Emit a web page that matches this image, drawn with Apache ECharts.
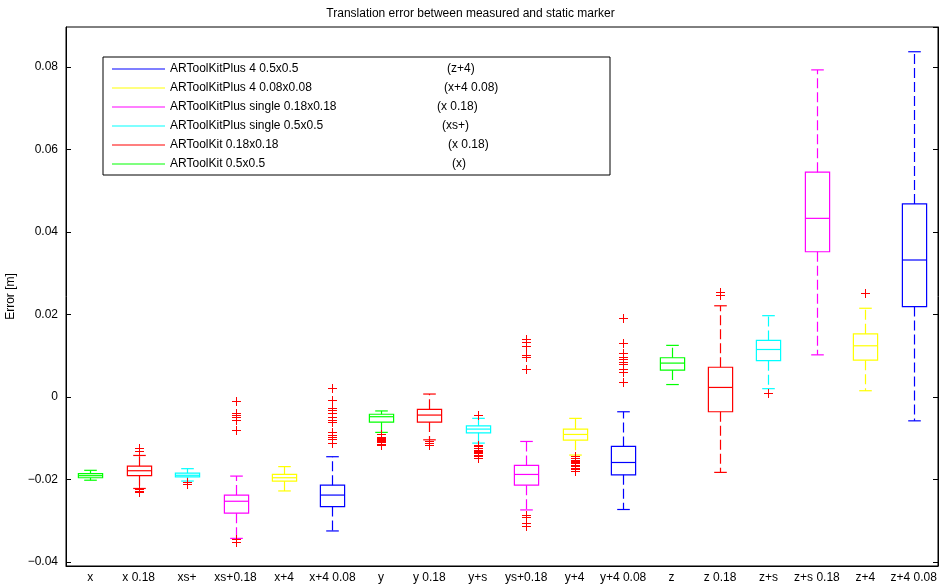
<!DOCTYPE html>
<html>
<head>
<meta charset="utf-8">
<script src="https://cdn.jsdelivr.net/npm/echarts@6/dist/echarts.min.js"></script>
<style>
  html, body { margin: 0; padding: 0; background: #fff; }
  #chart { width: 941px; height: 588px; }
</style>
</head>
<body>
<div id="chart"></div>
<script>
// Boxplot categories (x axis)
const categories = ['x', 'x 0.18', 'xs+', 'xs+0.18', 'x+4', 'x+4 0.08',
  'y', 'y 0.18', 'y+s', 'ys+0.18', 'y+4', 'y+4 0.08',
  'z', 'z 0.18', 'z+s', 'z+s 0.18', 'z+4', 'z+4 0.08'];

// Per-category statistics: [lower whisker, Q1, median, Q3, upper whisker] in metres
const boxStats = [
  [-0.0202, -0.0196, -0.0191, -0.0186, -0.0178],
  [-0.0222, -0.0191, -0.0179, -0.0168, -0.0142],
  [-0.0204, -0.0194, -0.0190, -0.0185, -0.0174],
  [-0.0343, -0.0282, -0.0253, -0.0238, -0.0192],
  [-0.0228, -0.0204, -0.0196, -0.0188, -0.0169],
  [-0.0325, -0.0266, -0.0238, -0.0214, -0.0145],
  [-0.0086, -0.0061, -0.0048, -0.0042, -0.0034],
  [-0.0104, -0.0061, -0.0044, -0.0030, 0.0007],
  [-0.0112, -0.0087, -0.0078, -0.0070, -0.0052],
  [-0.0274, -0.0214, -0.0188, -0.0166, -0.0108],
  [-0.0141, -0.0105, -0.0091, -0.0078, -0.0052],
  [-0.0273, -0.0189, -0.0159, -0.0120, -0.0036],
  [0.0030, 0.0065, 0.0082, 0.0095, 0.0125],
  [-0.0183, -0.0036, 0.0023, 0.0072, 0.0221],
  [0.0020, 0.0088, 0.0115, 0.0137, 0.0197],
  [0.0102, 0.0352, 0.0433, 0.0545, 0.0793],
  [0.0015, 0.0089, 0.0124, 0.0153, 0.0215],
  [-0.0058, 0.0219, 0.0332, 0.0468, 0.0837]
];

// Outlier values per category
const outlierValues = [
  [],
  [-0.0125, -0.0132, -0.0224, -0.0227, -0.0231],
  [-0.0207, -0.0210],
  [-0.0010, -0.0040, -0.0044, -0.0048, -0.0056, -0.0080, -0.0345, -0.0353],
  [],
  [0.0022, -0.0007, -0.0027, -0.0032, -0.0040, -0.0049, -0.0055, -0.0060, -0.0084, -0.0092, -0.0098, -0.0103, -0.0111],
  [-0.0089, -0.0096, -0.0100, -0.0102, -0.0104, -0.0106, -0.0108, -0.0110, -0.0113, -0.0116],
  [-0.0107, -0.0112, -0.0116],
  [-0.0044, -0.0116, -0.0120, -0.0124, -0.0128, -0.0131, -0.0134, -0.0137, -0.0140, -0.0143, -0.0148],
  [0.0140, 0.0132, 0.0124, 0.0102, 0.0098, 0.0067, -0.0286, -0.0292, -0.0306, -0.0313],
  [-0.0144, -0.0148, -0.0152, -0.0155, -0.0158, -0.0161, -0.0164, -0.0168, -0.0172, -0.0176, -0.0180],
  [0.0191, 0.0130, 0.0107, 0.0098, 0.0091, 0.0085, 0.0080, 0.0067, 0.0061, 0.0037],
  [],
  [0.0255, 0.0247],
  [0.0010],
  [],
  [0.0253],
  []
];

// Legend entries (top to bottom) and their bracketed notes
const seriesNames = ['ARToolKitPlus 4 0.5x0.5', 'ARToolKitPlus 4 0.08x0.08',
  'ARToolKitPlus single 0.18x0.18', 'ARToolKitPlus single 0.5x0.5',
  'ARToolKit 0.18x0.18', 'ARToolKit 0.5x0.5'];
const legendNotes = ['(z+4)', '(x+4 0.08)', '(x 0.18)', '(xs+)', '(x 0.18)', '(x)'];
// Which categories belong to each legend entry (category index modulo 6)
const seriesGroup = [5, 4, 3, 2, 1, 0];

const yTicks = [-0.04, -0.02, 0, 0.02, 0.04, 0.06, 0.08];

const colors = ['#0000ff', '#ffff00', '#ff00ff', '#00ffff', '#ff0000', '#00ff00'];
const noteOffsets = [277, 274, 267, 272, 278, 282];
const FONT = 'Liberation Sans, Arial, Helvetica, sans-serif';

function boxRender(color) {
  return function (params, api) {
    const cat = api.value(0);
    const low = api.coord([cat, api.value(1)]);
    const q1 = api.coord([cat, api.value(2)]);
    const med = api.coord([cat, api.value(3)]);
    const q3 = api.coord([cat, api.value(4)]);
    const high = api.coord([cat, api.value(5)]);
    const band = api.size([1, 0])[0];
    const bw = band * 0.25;
    const cw = band * 0.13;
    const x = Math.round(low[0]) + 0.5;
    const solid = { stroke: color, lineWidth: 1.2, fill: null };
    const dashed = { stroke: color, lineWidth: 1.2, fill: null, lineDash: [10, 4] };
    return {
      type: 'group',
      children: [
        { type: 'line', shape: { x1: x, y1: q3[1], x2: x, y2: high[1] }, style: dashed },
        { type: 'line', shape: { x1: x, y1: q1[1], x2: x, y2: low[1] }, style: dashed },
        { type: 'line', shape: { x1: x - cw, y1: high[1], x2: x + cw, y2: high[1] }, style: solid },
        { type: 'line', shape: { x1: x - cw, y1: low[1], x2: x + cw, y2: low[1] }, style: solid },
        { type: 'rect', shape: { x: x - bw, y: q3[1], width: 2 * bw, height: q1[1] - q3[1] }, style: solid },
        { type: 'line', shape: { x1: x - bw, y1: med[1], x2: x + bw, y2: med[1] }, style: solid }
      ]
    };
  };
}

function plusRender(params, api) {
  const p = api.coord([api.value(0), api.value(1)]);
  const x = Math.round(p[0]) + 0.5;
  const y = Math.round(p[1]) + 0.5;
  const s = 4.5;
  const st = { stroke: '#ff0000', lineWidth: 1 };
  return {
    type: 'group',
    children: [
      { type: 'line', shape: { x1: x - s, y1: y, x2: x + s, y2: y }, style: st },
      { type: 'line', shape: { x1: x, y1: y - s, x2: x, y2: y + s }, style: st }
    ]
  };
}

const series = seriesNames.map(function (name, k) {
  const data = [];
  boxStats.forEach(function (b, i) {
    if (i % 6 === seriesGroup[k]) data.push([i].concat(b));
  });
  return {
    name: name,
    type: 'custom',
    renderItem: boxRender(colors[k]),
    itemStyle: { color: colors[k] },
    encode: { x: 0, y: [1, 2, 3, 4, 5] },
    data: data,
    z: 2
  };
});

const outlierData = [];
outlierValues.forEach(function (vals, i) {
  vals.forEach(function (v) { outlierData.push([i, v]); });
});
series.push({
  name: 'outliers',
  type: 'custom',
  renderItem: plusRender,
  encode: { x: 0, y: 1 },
  data: outlierData,
  z: 3
});

const rich = {};
noteOffsets.forEach(function (w, i) {
  rich['a' + i] = { width: w, fontSize: 12, fontFamily: FONT, color: '#000' };
  rich['b' + i] = { width: 431 - w, fontSize: 12, fontFamily: FONT, color: '#000' };
});

function yLabel(v) {
  for (let i = 0; i < yTicks.length; i++) {
    if (Math.abs(v - yTicks[i]) < 1e-9) {
      const t = yTicks[i];
      if (t === 0) return '0';
      const s = Math.abs(t).toFixed(2);
      return t < 0 ? '\u2212' + s : s;
    }
  }
  return '';
}

const chart = echarts.init(document.getElementById('chart'), null, { renderer: 'canvas' });
chart.setOption({
  animation: false,
  backgroundColor: '#fff',
  title: {
    text: 'Translation error between measured and static marker',
    left: 'center',
    top: 3,
    textStyle: { fontSize: 12, fontWeight: 'normal', color: '#000', fontFamily: FONT }
  },
  legend: {
    data: seriesNames.map(function (n) { return { name: n, icon: 'rect' }; }),
    orient: 'vertical',
    left: 103,
    top: 57,
    padding: [5, 9, 4, 9],
    itemWidth: 53,
    itemHeight: 1,
    itemGap: 5,
    selectedMode: false,
    backgroundColor: '#fff',
    borderColor: '#000',
    borderWidth: 1,
    textStyle: { fontSize: 12, fontFamily: FONT, color: '#000', lineHeight: 14, rich: rich },
    formatter: function (name) {
      const i = seriesNames.indexOf(name);
      return '{a' + i + '|' + name + '}{b' + i + '|' + legendNotes[i] + '}';
    }
  },
  grid: {
    left: 66, right: 3, top: 27, bottom: 22,
    outerBoundsMode: 'none',
    containLabel: false,
    show: true, borderColor: '#000', borderWidth: 1
  },
  xAxis: {
    type: 'category',
    data: categories,
    boundaryGap: true,
    axisLine: { onZero: false, lineStyle: { color: '#000', width: 1 } },
    axisTick: { show: false },
    axisLabel: { color: '#000', fontSize: 12, fontFamily: FONT, margin: 6, interval: 0 },
    splitLine: { show: false }
  },
  yAxis: [{
    type: 'value',
    name: 'Error [m]',
    nameLocation: 'middle',
    nameGap: 46,
    nameTextStyle: { color: '#000', fontSize: 12, fontFamily: FONT },
    min: -0.041,
    max: 0.0897,
    splitNumber: 6,
    axisLine: { show: true, lineStyle: { color: '#000', width: 1 } },
    axisTick: { show: true, inside: true, length: 5, lineStyle: { color: '#000' } },
    axisLabel: { color: '#000', fontSize: 12, fontFamily: FONT, margin: 8, formatter: yLabel, showMinLabel: false, showMaxLabel: false },
    splitLine: { show: false }
  }, {
    type: 'value',
    position: 'right',
    min: -0.041,
    max: 0.0897,
    splitNumber: 6,
    axisLine: { show: true, lineStyle: { color: '#000', width: 1 } },
    axisTick: { show: true, inside: true, length: 5, lineStyle: { color: '#000' } },
    axisLabel: { show: false },
    splitLine: { show: false }
  }],
  series: series
});
</script>
</body>
</html>
